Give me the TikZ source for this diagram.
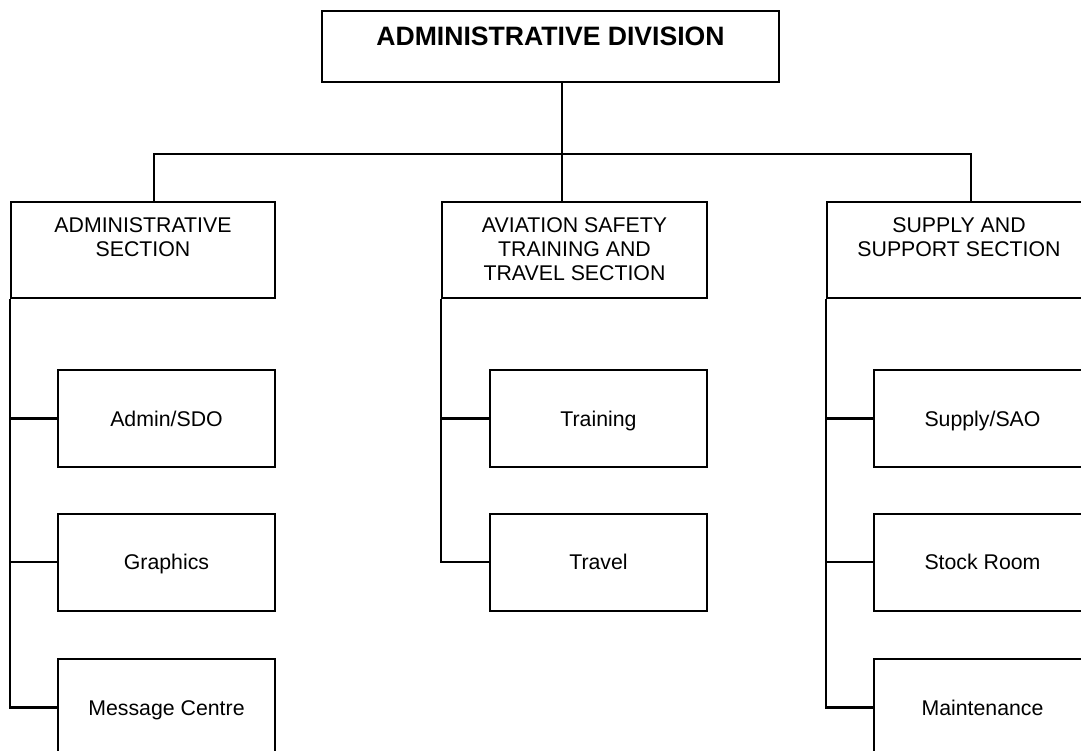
\documentclass[tikz,border=0pt]{standalone}
\usepackage{fontspec}
\setmainfont{Liberation Sans}
\usetikzlibrary{calc}
\begin{document}
\begin{tikzpicture}[x=1pt,y=-1pt,
  every node/.style={inner sep=0pt},
  boxshape/.style={draw=black, line width=2pt, rectangle},
  headbox/.style={boxshape, minimum width=457pt, minimum height=71pt},
  sectbox/.style={boxshape, minimum width=264pt, minimum height=96pt},
  unitbox/.style={boxshape, minimum width=217pt, minimum height=97pt,
    font=\fontsize{21.3}{24}\selectfont, text height=16pt, text depth=1pt},
  headtext/.style={anchor=north, font=\bfseries\fontsize{26.6}{31}\selectfont},
  secttext/.style={anchor=north, align=center, font=\fontsize{21.3}{24.3}\selectfont},
  link/.style={draw=black, line width=2.2pt}]
\useasboundingbox (0,0) rectangle (1081,751);
\clip (0,0) rectangle (1081,751);
\fill[white] (0,0) rectangle (1081,751);

% division head
\node[headbox] (div) at (550.5,46.5) {};
\node[headtext] (divT) at ($(div.north)+(0,16.5)$) {ADMINISTRATIVE DIVISION};

% sections
\node[sectbox, minimum width=264pt] (sa) at (143,250) {};
\node[sectbox, minimum width=265pt] (ms) at (574.5,250) {};
\node[sectbox, minimum width=264pt] (rs) at (959,250) {};
\node[secttext] (saT) at ($(sa.north)+(0,16)$) {ADMINISTRATIVE\\SECTION};
\node[secttext] (msT) at ($(ms.north)+(0,16)$) {AVIATION SAFETY\\TRAINING AND\\TRAVEL SECTION};
\node[secttext] (rsT) at ($(rs.north)+(0,16)$) {SUPPLY AND\\SUPPORT SECTION};

% units of the administrative section
\node[unitbox] (admin) at (166.5,418.5) {Admin/SDO};
\node[unitbox] (graph) at (166.5,562) {Graphics};
\node[unitbox] (msg)   at (166.5,707.5) {Message Centre};

% units of the aviation safety section
\node[unitbox] (train)  at (598.5,418.5) {Training};
\node[unitbox] (travel) at (598.5,562) {Travel};

% units of the supply section
\node[unitbox] (supply) at (982.5,418.5) {Supply/SAO};
\node[unitbox] (stock)  at (982.5,562) {Stock Room};
\node[unitbox] (maint)  at (982.5,707.5) {Maintenance};

% bus from the head to the sections
\coordinate (hub) at (562,154);
\coordinate (tL) at (154,202);
\coordinate (tR) at (971,202);
\draw[link] (div.south -| hub) -- (hub);
\draw[link] (tL) |- (hub) -| (tR);
\draw[link] (hub) -- (ms.north -| hub);

% section branches
\draw[link] (sa.south west) |- (msg.west);
\draw[link] (sa.south west |- admin.west) -- (admin.west);
\draw[link] (sa.south west |- graph.west) -- (graph.west);

\draw[link] (ms.south west) |- (travel.west);
\draw[link] (ms.south west |- train.west) -- (train.west);

\draw[link] (rs.south west) |- (maint.west);
\draw[link] (rs.south west |- supply.west) -- (supply.west);
\draw[link] (rs.south west |- stock.west) -- (stock.west);
\end{tikzpicture}
\end{document}
